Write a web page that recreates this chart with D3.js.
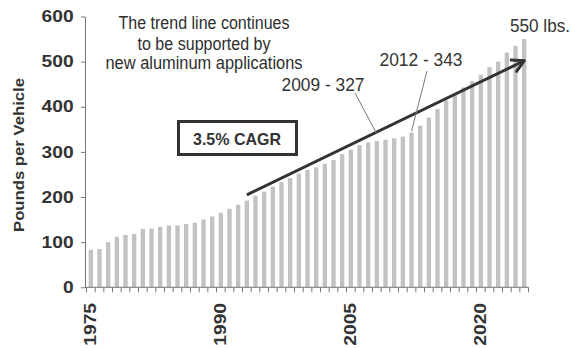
<!DOCTYPE html>
<html><head><meta charset="utf-8">
<script src="https://cdn.jsdelivr.net/npm/d3@7"></script>
<style>html,body{margin:0;padding:0;background:#fff;} svg{display:block;}</style>
</head><body><svg id="c" width="572" height="348"></svg>
<script>
// ---- data ----
const years = [1975,1976,1977,1978,1979,1980,1981,1982,1983,1984,1985,1986,1987,1988,1989,
  1990,1991,1992,1993,1994,1995,1996,1997,1998,1999,2000,2001,2002,2003,2004,
  2005,2006,2007,2008,2009,2010,2011,2012,2013,2014,2015,2016,2017,2018,2019,
  2020,2021,2022,2023,2024,2025];
const pounds = [83,85,100,112,116,118,129,130,134,137,137,140,143,150,157,
  165,174,183,192,203,212,223,233,242,252,260,266,274,282,295,
  305,315,321,324,327,330,334,343,358,376,395,414,426,443,457,
  471,488,500,520,535,550];
const yTicks = [0,100,200,300,400,500,600];
const xLabelYears = [1975,1990,2005,2020];
const trendStart = {year:1993, value:205};
const trendEnd = {year:2025, value:502};
const noteLines = ["The trend line continues","to be supported by","new aluminum applications"];
const callouts = [
  {label:"2009 - 327", year:2008, value:340},
  {label:"2012 - 343", year:2012, value:346}
];
const endLabel = "550 lbs.";
const cagrLabel = "3.5% CAGR";
const yTitle = "Pounds per Vehicle";

// ---- chart ----
const svg = d3.select("#c");
const FONT = "'Liberation Sans', Arial, sans-serif";
const x = d3.scaleBand().domain(years).range([86.5, 528.5]).paddingInner(0).paddingOuter(0);
const y = d3.scaleLinear().domain([0, 600]).range([287.3, 16.5]);
const bw = x.bandwidth();
const cx = yr => x(yr) + bw / 2;

// bars
svg.append("g").selectAll("rect")
  .data(years.map((yr, i) => ({yr, v: pounds[i]})))
  .join("rect")
  .attr("x", d => x(d.yr) + bw * 0.25)
  .attr("width", bw * 0.5)
  .attr("y", d => y(d.v))
  .attr("height", d => y(0) - y(d.v))
  .attr("fill", "#c2c2c2");

// y axis
const gy = svg.append("g").attr("transform", "translate(85,0)")
  .call(d3.axisLeft(y).tickValues(yTicks).tickSize(4).tickSizeOuter(0));
gy.select(".domain").attr("stroke", "#777");
gy.selectAll(".tick line").attr("stroke", "#777");
gy.selectAll(".tick text")
  .attr("font-family", FONT).attr("font-weight", "bold").attr("font-size", 16)
  .attr("fill", "#333").attr("x", -9.5).attr("transform", "scale(1.2,1)");

// x axis (ticks at band boundaries)
const gx = svg.append("g");
gx.append("line").attr("x1", 85).attr("x2", x.range()[1]).attr("y1", y(0)).attr("y2", y(0))
  .attr("stroke", "#777");
gx.selectAll("line.t").data(years.map(yr => x(yr)).concat([x.range()[1]]))
  .join("line").attr("class", "t")
  .attr("x1", d => d).attr("x2", d => d).attr("y1", y(0)).attr("y2", y(0) + 5)
  .attr("stroke", "#777");
gx.selectAll("text").data(xLabelYears).join("text")
  .attr("transform", d => `translate(${cx(d)},303) rotate(-90) scale(1.2,1)`)
  .attr("text-anchor", "end").attr("dy", "0.35em")
  .attr("font-family", FONT).attr("font-weight", "bold").attr("font-size", 16)
  .attr("fill", "#333").text(d => d);

// y title
svg.append("text").attr("transform", "translate(19,155) rotate(-90)")
  .attr("text-anchor", "middle").attr("dy", "0.35em")
  .attr("font-family", FONT).attr("font-weight", "bold").attr("font-size", 15)
  .attr("textLength", 154).attr("lengthAdjust", "spacingAndGlyphs")
  .attr("fill", "#333").text(yTitle);

// note lines
const noteBase = [29, 49.5, 68.5], noteLen = [171, 133, 197];
svg.append("g").selectAll("text").data(noteLines).join("text")
  .attr("x", 204).attr("y", (d, i) => noteBase[i]).attr("text-anchor", "middle")
  .attr("font-family", FONT).attr("font-size", 17.5)
  .attr("textLength", (d, i) => noteLen[i]).attr("lengthAdjust", "spacingAndGlyphs")
  .attr("fill", "#2e2e2e").text(d => d);

// CAGR box
svg.append("rect").attr("x", 178.5).attr("y", 121.5).attr("width", 118).attr("height", 33)
  .attr("fill", "#fff").attr("stroke", "#333").attr("stroke-width", 3);
svg.append("text").attr("x", 237).attr("y", 145).attr("text-anchor", "middle")
  .attr("font-family", FONT).attr("font-weight", "bold").attr("font-size", 17)
  .attr("textLength", 88).attr("lengthAdjust", "spacingAndGlyphs")
  .attr("fill", "#333").text(cagrLabel);

// trend arrow
const x1 = cx(trendStart.year), y1 = y(trendStart.value);
const x2 = cx(trendEnd.year), y2 = y(trendEnd.value);
svg.append("line").attr("x1", x1).attr("y1", y1).attr("x2", x2).attr("y2", y2)
  .attr("stroke", "#333").attr("stroke-width", 3);
const ang = Math.atan2(y2 - y1, x2 - x1);
[0.5, -0.5].forEach(a => {
  svg.append("line").attr("x1", x2).attr("y1", y2)
    .attr("x2", x2 - 13 * Math.cos(ang + a)).attr("y2", y2 - 13 * Math.sin(ang + a))
    .attr("stroke", "#333").attr("stroke-width", 3).attr("stroke-linecap", "round");
});

// callouts
const labelPos = [{tx: 323, ty: 90.5, lx: 355, ly: 93}, {tx: 421, ty: 66, lx: 427, ly: 71}];
callouts.forEach((c, i) => {
  const p = labelPos[i];
  svg.append("line").attr("x1", p.lx).attr("y1", p.ly).attr("x2", cx(c.year)).attr("y2", y(c.value))
    .attr("stroke", "#777").attr("stroke-width", 1);
  svg.append("text").attr("x", p.tx).attr("y", p.ty).attr("text-anchor", "middle")
    .attr("font-family", FONT).attr("font-size", 18)
    .attr("textLength", 83).attr("lengthAdjust", "spacingAndGlyphs")
    .attr("fill", "#333").text(c.label);
});

// end label
svg.append("text").attr("x", 510).attr("y", 31.5)
  .attr("font-family", FONT).attr("font-size", 18)
  .attr("textLength", 60).attr("lengthAdjust", "spacingAndGlyphs")
  .attr("fill", "#333").text(endLabel);
</script>
</body></html>
